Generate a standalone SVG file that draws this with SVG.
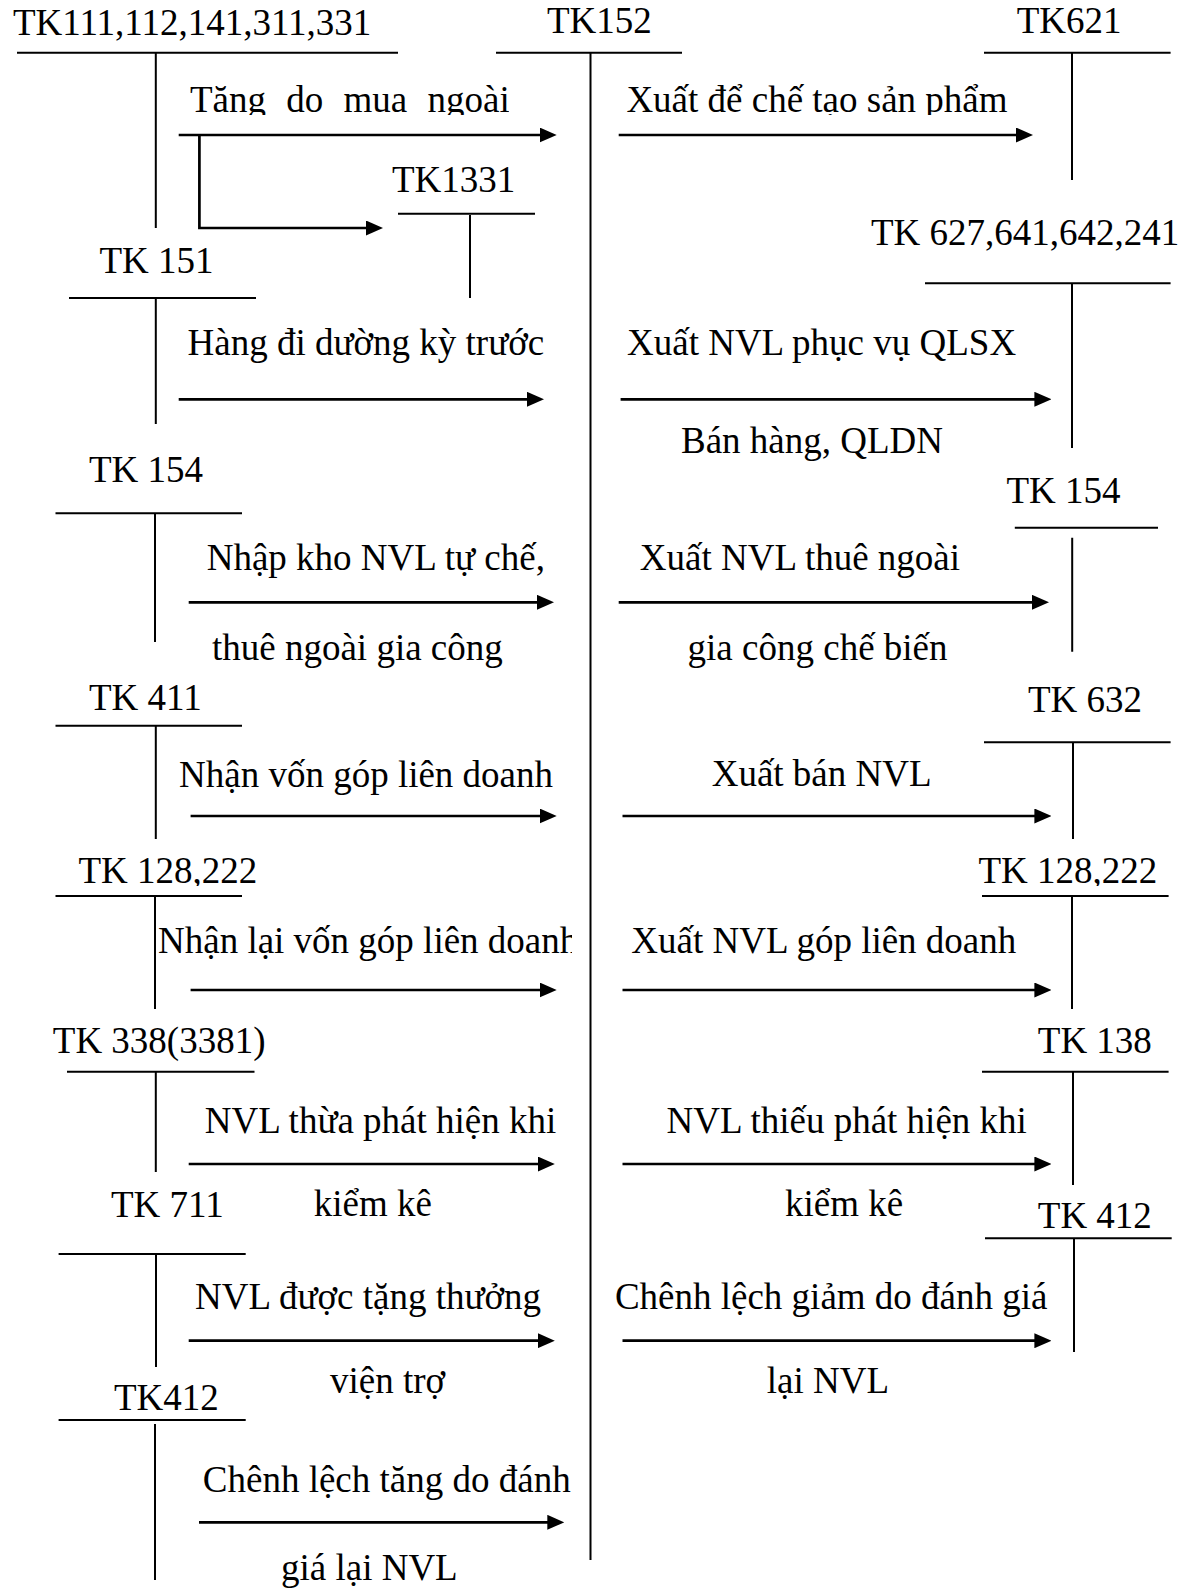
<svg xmlns="http://www.w3.org/2000/svg" width="1192" height="1588" viewBox="0 0 1192 1588">
<style>
text{font-family:"Liberation Serif","Times New Roman",serif;font-size:37px;fill:#000}
.h{stroke:#000;stroke-width:2;fill:none}
.a{stroke:#000;stroke-width:2.7;fill:none;marker-end:url(#ah)}
</style>
<defs>
<marker id="ah" markerUnits="userSpaceOnUse" markerWidth="17" markerHeight="15" refX="8" refY="7.5" orient="auto" viewBox="0 0 17 15"><path d="M0,0 L17,7.5 L0,15 z" fill="#000"/></marker>
<clipPath id="c1"><rect x="0" y="0" width="509" height="115"/></clipPath>
<clipPath id="c2"><rect x="600" y="0" width="500" height="115"/></clipPath>
<clipPath id="c3"><rect x="0" y="900" width="572" height="100"/></clipPath>
<clipPath id="c4"><rect x="300" y="150" width="300" height="43"/></clipPath>
<clipPath id="c5"><rect x="0" y="850" width="1192" height="36"/></clipPath>
</defs>
<rect width="1192" height="1588" fill="#fff"/>
<g id="tk111"><text x="13" y="35">TK111,112,141,311,331</text><path class="h" d="M17,52.7H398M155.8,53V228"/></g>
<g id="tk152"><text x="547" y="33.3">TK152</text><path class="h" d="M496,52.7H682M590.5,53V1560"/></g>
<g id="tk1331"><text x="392" y="192" clip-path="url(#c4)">TK1331</text><path class="h" d="M398,213.7H535M470,215V298"/></g>
<g id="tk151"><text x="99.5" y="273">TK 151</text><path class="h" d="M69,298H256M155.8,298V424"/></g>
<g id="tk621"><text x="1016.7" y="33.3">TK621</text><path class="h" d="M984,52.7H1170.6M1072,53V180"/></g>
<g id="tk627"><text x="871" y="245">TK 627,641,642,241</text><path class="h" d="M925,283.3H1170.6M1072,283V448"/></g>
<g id="tk154l"><text x="89" y="481.7">TK 154</text><path class="h" d="M55.5,513.3H242M155,513V642"/></g>
<g id="tk154r"><text x="1006.4" y="503.3">TK 154</text><path class="h" d="M1014.8,527.7H1158M1072.2,537.7V651.7"/></g>
<g id="tk411"><text x="89" y="710">TK 411</text><path class="h" d="M55.5,725.7H242M155.8,726V839"/></g>
<g id="tk632"><text x="1028" y="712">TK 632</text><path class="h" d="M984,742.3H1170.6M1073,742V839"/></g>
<g id="tk128l"><text x="78.5" y="883" clip-path="url(#c5)">TK 128,222</text><path class="h" d="M55.5,896H242M155,896V1009"/></g>
<g id="tk128r"><text x="978.4" y="883" clip-path="url(#c5)">TK 128,222</text><path class="h" d="M982,896H1168.6M1072,896V1009"/></g>
<g id="tk3381"><text x="52.8" y="1052.7">TK 338(3381)</text><path class="h" d="M67,1071.7H254.5M155.8,1072V1172"/></g>
<g id="tk138"><text x="1037.8" y="1052.7">TK 138</text><path class="h" d="M982,1071.7H1168.6M1073,1072V1185"/></g>
<g id="tk711"><text x="111" y="1216.7">TK 711</text><path class="h" d="M58.6,1254H245.7M156,1254V1367"/></g>
<g id="tk412r"><text x="1037.8" y="1228.3">TK 412</text><path class="h" d="M985,1238.3H1171.7M1074,1238V1352"/></g>
<g id="tk412l"><text x="114" y="1410">TK412</text><path class="h" d="M58.6,1420H245.7M155,1424V1580"/></g>
<g id="connectors">
<path class="a" d="M178.7,135H547.7"/>
<path class="a" d="M199.4,135V228H374"/>
<path class="a" d="M178.7,399.3H535"/>
<path class="a" d="M188.7,602.3H545"/>
<path class="a" d="M190.6,816H547.7"/>
<path class="a" d="M190.6,990H547.7"/>
<path class="a" d="M188.7,1164H545.8"/>
<path class="a" d="M188.7,1340.7H545.8"/>
<path class="a" d="M199,1522.3H555.3"/>
<path class="a" d="M618.7,135H1024"/>
<path class="a" d="M620.6,399.3H1042.4"/>
<path class="a" d="M618.7,602.3H1040"/>
<path class="a" d="M622.5,816H1042.4"/>
<path class="a" d="M622.5,990H1042.4"/>
<path class="a" d="M622.5,1164H1042.4"/>
<path class="a" d="M622.5,1340.7H1042.4"/>
</g>
<g id="labels">
<text x="190" y="112" word-spacing="11" clip-path="url(#c1)">Tăng do mua ngoài</text>
<text x="187.5" y="355">Hàng đi dường kỳ trước</text>
<text x="206.7" y="570">Nhập kho NVL tự chế,</text>
<text x="212" y="660">thuê ngoài gia công</text>
<text x="179" y="786.7">Nhận vốn góp liên doanh</text>
<text x="158" y="953" clip-path="url(#c3)">Nhận lại vốn góp liên doanh</text>
<text x="204.7" y="1133">NVL thừa phát hiện khi</text>
<text x="313.8" y="1216">kiểm kê</text>
<text x="195" y="1309">NVL được tặng thưởng</text>
<text x="330" y="1393">viện trợ</text>
<text x="202.8" y="1491.7">Chênh lệch tăng do đánh</text>
<text x="281" y="1580">giá lại NVL</text>
<text x="626.4" y="111.7" clip-path="url(#c2)">Xuất để chế tạo sản phẩm</text>
<text x="627" y="355">Xuất NVL phục vụ QLSX</text>
<text x="681" y="453.3">Bán hàng, QLDN</text>
<text x="639.8" y="570">Xuất NVL thuê ngoài</text>
<text x="687.6" y="660">gia công chế biến</text>
<text x="711.7" y="786">Xuất bán NVL</text>
<text x="631.3" y="953">Xuất NVL góp liên doanh</text>
<text x="666.5" y="1132.7">NVL thiếu phát hiện khi</text>
<text x="785" y="1216">kiểm kê</text>
<text x="614.9" y="1309.3">Chênh lệch giảm do đánh giá</text>
<text x="766.8" y="1393.3">lại NVL</text>
</g>
</svg>
